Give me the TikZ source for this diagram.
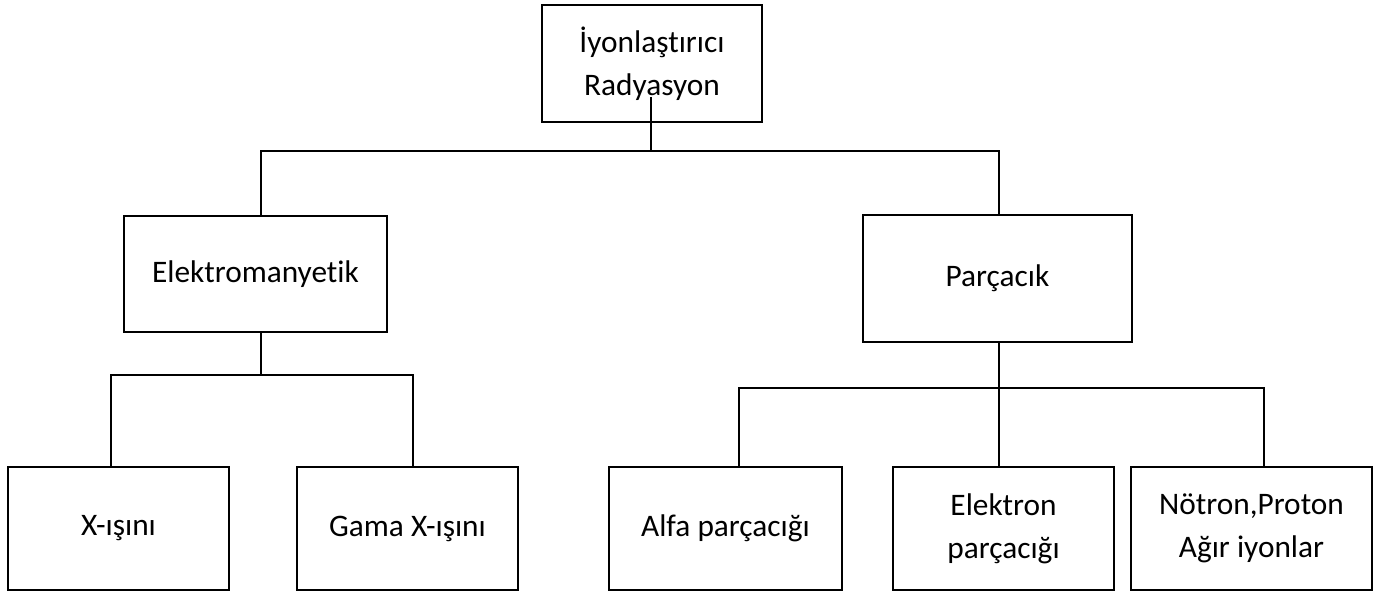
\documentclass[tikz,border=0pt]{standalone}
\usepackage{fontspec}
\setmainfont{Carlito}[Ligatures=CommonOff]
\begin{document}
\begin{tikzpicture}[x=0.75pt,y=-0.75pt,
  box/.style={draw, line width=1.2pt, inner sep=0pt, outer sep=0pt, align=center,
    font=\fontsize{23.5}{32.25}\selectfont},
  sz/.style n args={2}{minimum width=#1*0.75pt, minimum height=#2*0.75pt},
  wire/.style={line width=1.2pt}]
\useasboundingbox (0,0) rectangle (1389,592);
% boxes
\node[box, sz={220}{117}] (top)  at (652,63.5)   {İyonlaştırıcı\\Radyasyon};
\node[box, sz={263}{116}] (elm)  at (255.5,274)  {Elektromanyetik};
\node[box, sz={269}{127}] (par)  at (997.5,278.5){Parçacık};
\node[box, sz={221}{123}] (xr)   at (118.5,528.5){X-ışını};
\node[box, sz={221}{123}] (gama) at (407.5,528.5){Gama X-ışını};
\node[box, sz={233}{123}] (alfa) at (725.5,528.5){Alfa parçacığı};
\node[box, sz={221}{123}] (elek) at (1003.5,528.5){Elektron\\parçacığı};
\node[box, sz={241}{123}] (nt)   at (1251.5,528.5){Nötron,Proton\\Ağır iyonlar};
% junction coordinates
\coordinate (t0) at (651,97);
\coordinate (j0) at (651,151);
\coordinate (jl) at (261,151);
\coordinate (jr) at (999,151);
\coordinate (kl) at (111,375);
\coordinate (km) at (261,375);
\coordinate (kr) at (413,375);
\coordinate (ml) at (739,388);
\coordinate (mm) at (999,388);
\coordinate (mr) at (1264,388);
% connectors
\draw[wire] (t0) -- (j0);
\draw[wire] (jl |- elm.north) -- (jl) -- (jr) -- (jr |- par.north);
\draw[wire] (km |- elm.south) -- (km);
\draw[wire] (kl |- xr.north) -- (kl) -- (kr) -- (kr |- gama.north);
\draw[wire] (mm |- par.south) -- (mm |- elek.north);
\draw[wire] (ml |- alfa.north) -- (ml) -- (mr) -- (mr |- nt.north);
\end{tikzpicture}
\end{document}
